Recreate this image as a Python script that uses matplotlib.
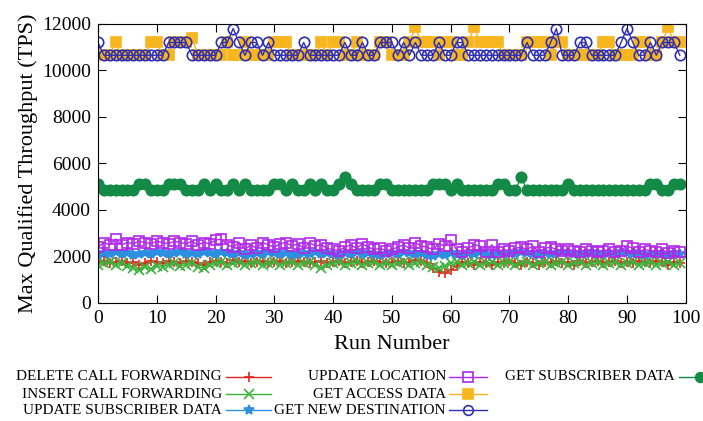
import matplotlib
matplotlib.use("Agg")
import matplotlib.pyplot as plt
from matplotlib.lines import Line2D

plt.rcParams['font.family'] = ['Liberation Serif', 'DejaVu Serif']

# run numbers 0..99
runs = list(range(100))

# Max qualified throughput (TPS)
delete_cf = [1750, 1800, 1700, 1750, 1800, 1700, 1750, 1650, 1700, 1800,
             1750, 1700, 1800, 1750, 1700, 1800, 1750, 1700, 1650, 1750,
             1800, 1750, 1700, 1850, 1750, 1800, 1700, 1750, 1800, 1700,
             1750, 1800, 1700, 1750, 1800, 1750, 1700, 1750, 1800, 1700,
             1750, 1800, 1700, 1750, 1800, 1700, 1750, 1800, 1750, 1700,
             1750, 1800, 1700, 1750, 1850, 1800, 1700, 1500, 1350, 1300,
             1400, 1600, 1750, 1700, 1650, 1750, 1700, 1650, 1750, 1700,
             1800, 1700, 1650, 1750, 1700, 1650, 1750, 1700, 1800, 1700,
             1750, 1650, 1800, 1700, 1750, 1800, 1700, 1750, 1800, 1700,
             1750, 1700, 1800, 1750, 1700, 1800, 1750, 1650, 1750, 1700]
insert_cf = [1650, 1700, 1750, 1650, 1700, 1600, 1500, 1400, 1550, 1450,
             1600, 1550, 1650, 1700, 1600, 1650, 1700, 1550, 1500, 1650,
             1700, 1750, 1650, 1700, 1750, 1650, 1700, 1750, 1650, 1700,
             1750, 1650, 1700, 1750, 1650, 1700, 1750, 1650, 1500, 1650,
             1700, 1750, 1650, 1700, 1750, 1650, 1700, 1750, 1650, 1700,
             1650, 1700, 1750, 1650, 1700, 1750, 1650, 1550, 1500, 1600,
             1700, 1750, 1650, 1700, 1750, 1650, 1700, 1750, 1650, 1700,
             1750, 1650, 1700, 1750, 1650, 1700, 1750, 1650, 1700, 1750,
             1650, 1700, 1750, 1650, 1700, 1750, 1650, 1700, 1750, 1650,
             1700, 1750, 1650, 1700, 1750, 1650, 1700, 1750, 1650, 1700]
update_sub = [2050, 2150, 2100, 2200, 2100, 2150, 2050, 2100, 2150, 2100,
              2200, 2150, 2100, 2150, 2200, 2100, 2150, 2100, 2200, 2150,
              2100, 2200, 2150, 2100, 2150, 2050, 2100, 2150, 2100, 2200,
              2150, 2100, 2150, 2050, 2100, 2150, 2100, 2200, 2100, 2150,
              2100, 2050, 2150, 2100, 2200, 2100, 2150, 2100, 2050, 2100,
              2150, 2100, 2200, 2150, 2100, 2150, 2050, 2000, 2100, 2050,
              2150, 2100, 2050, 2150, 2100, 2200, 2100, 2050, 2150, 2100,
              2150, 2100, 2200, 2150, 2100, 2050, 2150, 2100, 2150, 2200,
              2150, 2100, 2150, 2100, 2200, 2150, 2100, 2150, 2100, 2200,
              2150, 2100, 2150, 2050, 2100, 2150, 2100, 2050, 2150, 2100]
update_loc = [2400, 2600, 2500, 2750, 2500, 2600, 2550, 2650, 2600, 2550,
              2650, 2600, 2550, 2650, 2600, 2550, 2650, 2500, 2600, 2550,
              2700, 2750, 2500, 2400, 2600, 2300, 2500, 2350, 2600, 2500,
              2400, 2550, 2600, 2450, 2550, 2350, 2600, 2450, 2500, 2350,
              2300, 2250, 2400, 2500, 2350, 2550, 2400, 2300, 2350, 2250,
              2300, 2400, 2500, 2350, 2600, 2450, 2400, 2300, 2550, 2450,
              2700, 2300, 2200, 2350, 2500, 2450, 2200, 2500, 2200, 2300,
              2250, 2350, 2400, 2300, 2450, 2200, 2350, 2400, 2300, 2250,
              2300, 2250, 2200, 2300, 2250, 2200, 2250, 2300, 2200, 2250,
              2450, 2350, 2200, 2300, 2250, 2200, 2300, 2150, 2250, 2200]
get_access = [10650, 10650, 10650, 11200, 10650, 10650, 10650, 10650, 10650, 11200,
              11200, 10650, 10650, 11200, 11200, 11200, 11400, 10650, 10650, 10650,
              10650, 10650, 11200, 10650, 10650, 11200, 10650, 10650, 10650, 10650,
              11200, 11200, 11200, 10650, 10650, 10650, 10650, 10650, 11200, 10650,
              11200, 11200, 10650, 10650, 11200, 10650, 10650, 10650, 11200, 11200,
              10650, 10650, 10650, 11200, 11850, 11200, 11200, 11200, 10650, 11200,
              11200, 10650, 10650, 11200, 11850, 11200, 11200, 11200, 11200, 10650,
              10650, 10650, 10650, 11200, 11200, 11200, 11200, 10650, 11200, 11200,
              10650, 10650, 10650, 10650, 10650, 10650, 11200, 11200, 10650, 10650,
              10650, 10650, 11200, 11200, 10650, 10650, 11200, 11850, 11200, 11200]
get_new_dest = [11200, 10650, 10650, 10650, 10650, 10650, 10650, 10650, 10650, 10650,
                10650, 10650, 11200, 11200, 11200, 11200, 10650, 10650, 10650, 10650,
                10650, 11200, 11200, 11800, 11200, 10650, 11200, 11200, 10650, 11200,
                10650, 10650, 10650, 10650, 10650, 11200, 10650, 10650, 10650, 10650,
                10650, 10650, 11200, 10650, 10650, 11200, 10650, 10650, 11200, 11200,
                11200, 10650, 11200, 10650, 11200, 10650, 10650, 10650, 11200, 10650,
                10650, 11200, 11200, 10650, 10650, 10650, 10650, 10650, 10650, 10650,
                10650, 10650, 10650, 11200, 10650, 10650, 10650, 11200, 11800, 10650,
                10650, 10650, 11200, 11200, 10650, 10650, 10650, 10650, 10650, 11200,
                11800, 11200, 10650, 10650, 11200, 10650, 11200, 11200, 11200, 10650]
get_sub_data = [5100, 4850, 4850, 4850, 4850, 4850, 4850, 5100, 5100, 4850,
                4850, 4850, 5100, 5100, 5100, 4850, 4850, 4850, 5100, 4850,
                5100, 4850, 4850, 5100, 4850, 5100, 4850, 4850, 4850, 4850,
                5100, 5100, 4850, 5100, 4850, 4850, 5100, 4850, 5100, 4850,
                4850, 5100, 5400, 5100, 4850, 4850, 4850, 4850, 5100, 5100,
                4850, 4850, 4850, 4850, 4850, 4850, 4850, 5100, 5100, 5100,
                4850, 5100, 4850, 4850, 4850, 4850, 4850, 4850, 5100, 5100,
                4850, 4850, 5400, 4850, 4850, 4850, 4850, 4850, 4850, 4850,
                5100, 4850, 4850, 4850, 4850, 4850, 4850, 4850, 4850, 4850,
                4850, 4850, 4850, 4850, 5100, 5100, 4850, 4850, 5100, 5100]

series = [
    ("DELETE CALL FORWARDING", delete_cf, "#e4261c", "+", "full"),
    ("INSERT CALL FORWARDING", insert_cf, "#3cb43c", "x", "full"),
    ("UPDATE SUBSCRIBER DATA", update_sub, "#2c8fe0", "*", "full"),
    ("UPDATE LOCATION", update_loc, "#b028e8", "s", "none"),
    ("GET ACCESS DATA", get_access, "#f7b51e", "s", "full"),
    ("GET NEW DESTINATION", get_new_dest, "#2f2fb4", "o", "none"),
    ("GET SUBSCRIBER DATA", get_sub_data, "#138a45", "o", "full"),
]

fig = plt.figure(figsize=(7.03, 4.21), dpi=100)
ax = fig.add_axes([0.1394, 0.2803, 0.836, 0.663])

for name, vals, col, mk, fill in series:
    ax.plot(runs, vals, color=col, marker=mk, markersize=7.5, lw=1,
            fillstyle=fill, markeredgewidth=1.2)

ax.set_xlim(0, 100)
ax.set_ylim(0, 12000)
ax.set_xticks(range(0, 101, 10))
ax.set_yticks(range(0, 12001, 2000))
ax.tick_params(direction="in", top=True, right=True, length=6, labelsize=14, pad=5)
ax.set_xlabel("Run Number", fontsize=16, labelpad=6)
ax.set_ylabel("Max Qualified Throughput (TPS)", fontsize=16, labelpad=3)

# legend drawn by hand, gnuplot style: right-aligned text then sample
W, H = 703.0, 421.0
cols = [(222, 226, 271), (446, 449, 487), (675, 679, 720)]
rows = [377, 394, 410]
slots = [(0, 0), (0, 1), (0, 2), (1, 0), (1, 1), (1, 2), (2, 0)]
for (name, vals, col, mk, fill), (c, r) in zip(series, slots):
    tx, l0, l1 = cols[c]
    y = 1 - rows[r] / H
    fig.text(tx / W, y, name, ha="right", va="center", fontsize=11)
    fig.add_artist(Line2D([l0 / W, l1 / W], [y, y], color=col, lw=1,
                          transform=fig.transFigure))
    fig.add_artist(Line2D([(l0 + l1) / 2 / W], [y], color=col, marker=mk,
                          markersize=7, fillstyle=fill, markeredgewidth=1.2,
                          transform=fig.transFigure))

fig.savefig("out.png", dpi=100)
